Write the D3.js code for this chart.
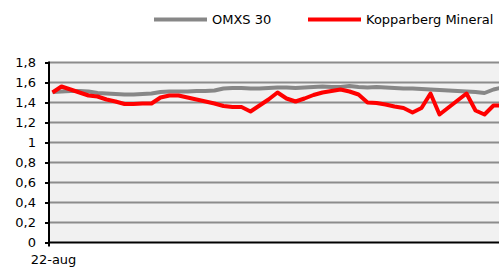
<!DOCTYPE html>
<html>
<head>
<meta charset="utf-8">
<script src="https://cdn.jsdelivr.net/npm/d3@7"></script>
<style>
  html, body { margin: 0; padding: 0; background: #fff; overflow: hidden; }
  text { font-family: "DejaVu Sans", Verdana, sans-serif; font-size: 13px; fill: #000; }
</style>
</head>
<body>
<div id="chart"></div>
<script>
// series names + values (ratio), one point per trading day from 22-aug
var seriesNames = ["OMXS 30", "Kopparberg Mineral"];
var seriesColors = ["#878787", "#ff0000"];

var omxs = [1.505, 1.51, 1.515, 1.515, 1.51, 1.495, 1.49, 1.485, 1.48, 1.48,
	1.485, 1.49, 1.505, 1.51, 1.51, 1.51, 1.515, 1.515, 1.52, 1.54,
	1.545, 1.545, 1.54, 1.54, 1.545, 1.55, 1.55, 1.545, 1.55, 1.555,
	1.56, 1.555, 1.555, 1.565, 1.555, 1.55, 1.555, 1.55, 1.545, 1.54,
	1.54, 1.535, 1.53, 1.525, 1.52, 1.515, 1.51, 1.505, 1.495, 1.53, 1.55];

var kopparberg = [1.50, 1.56, 1.53, 1.50, 1.47, 1.46, 1.43, 1.41, 1.385, 1.385,
	1.39, 1.39, 1.45, 1.47, 1.47, 1.45, 1.43, 1.41, 1.39, 1.365,
	1.355, 1.355, 1.31, 1.37, 1.43, 1.50, 1.44, 1.41, 1.44, 1.475,
	1.50, 1.515, 1.53, 1.51, 1.48, 1.40, 1.395, 1.38, 1.36, 1.345,
	1.30, 1.345, 1.49, 1.28, 1.35, 1.42, 1.49, 1.32, 1.28, 1.37, 1.37];

var yTicks = [0, 0.2, 0.4, 0.6, 0.8, 1, 1.2, 1.4, 1.6, 1.8];
var xTicks = [0];
var xTickLabels = ["22-aug"];

var W = 499, H = 269;
var pLeft = 49, pTop = 62.5, pBottom = 242.5, pRight = 499;

var svg = d3.select("#chart").append("svg")
	.attr("width", W).attr("height", H);

var x = d3.scaleLinear().domain([0, omxs.length - 1]).range([52.5, 502.5]);
var y = d3.scaleLinear().domain([0, 1.8]).range([pBottom, pTop]);

// plot background
svg.append("rect")
	.attr("x", pLeft).attr("y", pTop)
	.attr("width", pRight - pLeft).attr("height", pBottom - pTop)
	.attr("fill", "#f1f1f1");

// gridlines
svg.append("g").selectAll("line")
	.data(yTicks.filter(function(d) { return d > 0; }))
	.enter().append("line")
	.attr("x1", pLeft).attr("x2", pRight)
	.attr("y1", function(d) { return y(d); })
	.attr("y2", function(d) { return y(d); })
	.attr("stroke", "#8c8c8c").attr("stroke-width", 2);

// y axis
var fmt = function(d) { return String(+d.toFixed(1)).replace(".", ","); };
var yAxis = svg.append("g")
	.attr("transform", "translate(" + pLeft + ",0)")
	.call(d3.axisLeft(y).tickValues(yTicks).tickSize(4).tickPadding(9).tickFormat(fmt));
yAxis.select(".domain").attr("stroke", "#000").attr("stroke-width", 2)
	.attr("d", "M0," + (pTop - 1) + "V" + pBottom);
yAxis.selectAll(".tick line").attr("stroke", "#000").attr("stroke-width", 2);
yAxis.selectAll(".tick text").style("font-size", "13px")
	.style("font-family", "'DejaVu Sans', Verdana, sans-serif");

// x axis
var xAxis = svg.append("g")
	.attr("transform", "translate(0," + pBottom + ")")
	.call(d3.axisBottom(x).tickValues(xTicks).tickSize(4).tickPadding(8)
		.tickFormat(function(d, i) { return xTickLabels[i]; }));
xAxis.select(".domain").attr("stroke", "#000").attr("stroke-width", 2)
	.attr("d", "M" + (pLeft - 1) + ",0H" + (pRight + 2));
xAxis.selectAll(".tick").attr("transform", "translate(" + pLeft + ",0)");
xAxis.selectAll(".tick line").attr("stroke", "#000").attr("stroke-width", 2);
xAxis.selectAll(".tick text").attr("x", 4.5)
	.style("font-size", "13px")
	.style("font-family", "'DejaVu Sans', Verdana, sans-serif");

// lines
var line = d3.line()
	.x(function(d, i) { return x(i); })
	.y(function(d) { return y(d); });

[omxs, kopparberg].forEach(function(s, k) {
	svg.append("path")
		.datum(s)
		.attr("d", line)
		.attr("fill", "none")
		.attr("stroke", seriesColors[k])
		.attr("stroke-width", 4)
		.attr("stroke-linejoin", "round");
});

// legend
var legendX = [154, 308];
var lg = svg.append("g");
seriesNames.forEach(function(name, k) {
	lg.append("line")
		.attr("x1", legendX[k]).attr("x2", legendX[k] + 53)
		.attr("y1", 19.5).attr("y2", 19.5)
		.attr("stroke", seriesColors[k]).attr("stroke-width", 4);
	lg.append("text")
		.attr("x", legendX[k] + 58).attr("y", 24)
		.text(name);
});
</script>
</body>
</html>
